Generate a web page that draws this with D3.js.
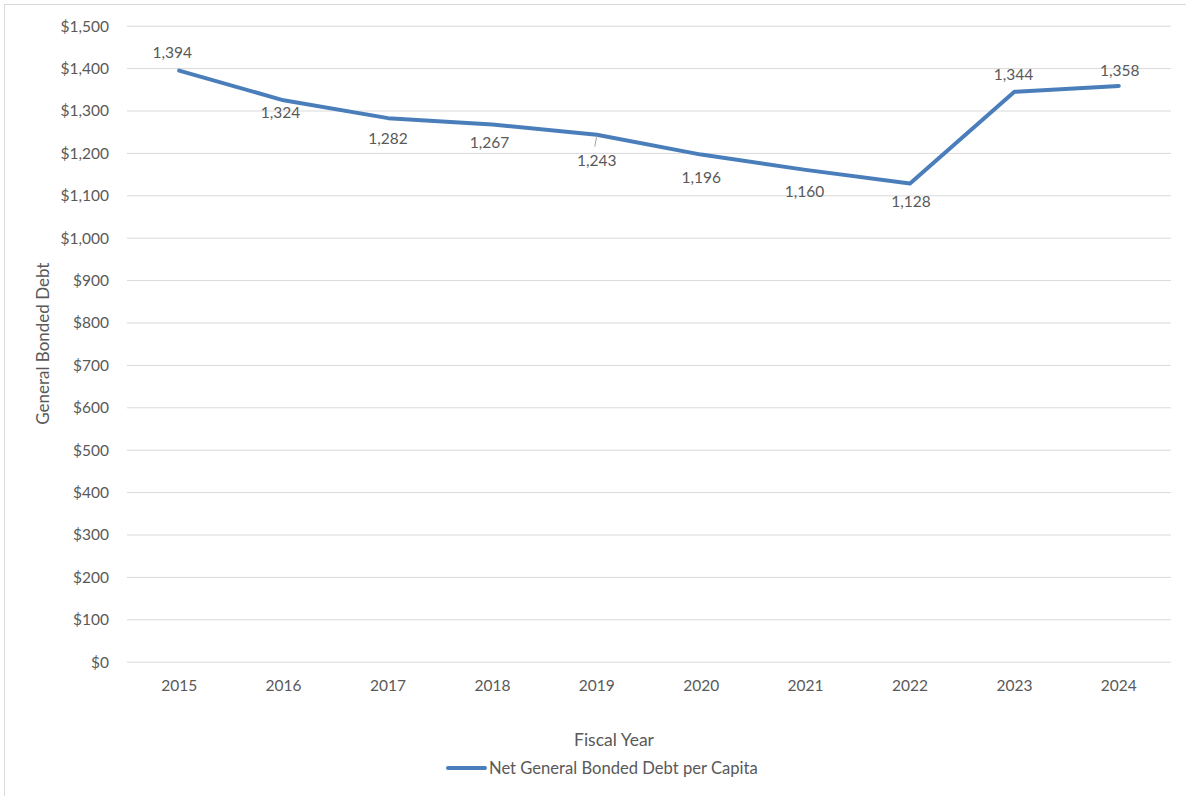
<!DOCTYPE html>
<html><head><meta charset="utf-8">
<script src="https://cdn.jsdelivr.net/npm/d3@7"></script>
<style>
html,body{margin:0;padding:0;background:#fff;}
svg{display:block;}
text{font-family:Lato,"Open Sans",sans-serif;fill:#595959;}
</style></head>
<body>
<svg id="c" width="1186" height="796"></svg>
<script>
const years = ["2015","2016","2017","2018","2019","2020","2021","2022","2023","2024"];
const debtPerCapita = [1394,1324,1282,1267,1243,1196,1160,1128,1344,1358];
const yTicks = [0,100,200,300,400,500,600,700,800,900,1000,1100,1200,1300,1400,1500];
const seriesName = "Net General Bonded Debt per Capita";
const xTitle = "Fiscal Year";
const yTitle = "General Bonded Debt";

const svg = d3.select("#c");
const L = 127, R = 1171, T = 25.7, B = 661.7;
const FS = 15.5;

svg.append("rect").attr("x",4.5).attr("y",4.5).attr("width",1190).attr("height",800)
  .attr("fill","none").attr("stroke","#d9d9d9").attr("stroke-width",1);

const x = d3.scaleBand().domain(years).range([L,R]);
const y = d3.scaleLinear().domain([0,1500]).range([B,T]);

// gridlines
const grid = svg.append("g").attr("transform",`translate(${L},0)`)
  .call(d3.axisLeft(y).tickValues(yTicks).tickSize(-(R-L)).tickFormat(""));
grid.select(".domain").remove();
grid.selectAll("line").attr("stroke","#d9d9d9").attr("stroke-width",1);

// y labels
const yAx = svg.append("g").attr("transform",`translate(${L-18},0)`)
  .call(d3.axisLeft(y).tickValues(yTicks).tickSize(0).tickPadding(0)
    .tickFormat(d=>"$"+d3.format(",")(d)));
yAx.select(".domain").remove();
yAx.selectAll("text").attr("font-size",FS).attr("fill","#595959")
  .style("font-family","Lato, 'Open Sans', sans-serif").attr("dy","0.35em");

// x labels
const xAx = svg.append("g").attr("transform",`translate(0,${B})`)
  .call(d3.axisBottom(x).tickSize(0).tickPadding(18));
xAx.select(".domain").remove();
xAx.selectAll("text").attr("font-size",FS).attr("fill","#595959")
  .style("font-family","Lato, 'Open Sans', sans-serif");

// line
const cx = d => x(d) + x.bandwidth()/2;
const line = d3.line().x((d,i)=>cx(years[i])).y(d=>y(d));
svg.append("path").datum(debtPerCapita).attr("d",line)
  .attr("fill","none").attr("stroke","#4a7ebb").attr("stroke-width",4)
  .attr("stroke-linejoin","round").attr("stroke-linecap","round");

// leader line for 2019
svg.append("line")
  .attr("x1",cx("2019")).attr("y1",y(debtPerCapita[4])+1)
  .attr("x2",cx("2019")-2).attr("y2",y(debtPerCapita[4])+12)
  .attr("stroke","#a6a6a6").attr("stroke-width",1);

// data labels
const lblOff = [[-7,-18],[-3,12],[0,20],[-3,18],[0,26],[0,23],[-1,22],[1,18],[-1,-17],[1,-15]];
svg.append("g").selectAll("text").data(debtPerCapita).join("text")
  .attr("x",(d,i)=>cx(years[i]) + lblOff[i][0])
  .attr("y",(d,i)=>y(d) + lblOff[i][1])
  .attr("dy","0.35em")
  .attr("text-anchor","middle").attr("font-size",FS)
  .text(d=>d3.format(",")(d));

// axis titles
svg.append("text").attr("x",614).attr("y",740).attr("dy","0.35em")
  .attr("text-anchor","middle").attr("font-size",17.5).text(xTitle);
svg.append("text").attr("transform",`translate(43,${(T+B)/2}) rotate(-90)`)
  .attr("dy","0.35em").attr("text-anchor","middle").attr("font-size",17).text(yTitle);

// legend
svg.append("line").attr("x1",448).attr("x2",485).attr("y1",768).attr("y2",768)
  .attr("stroke","#4a7ebb").attr("stroke-width",4).attr("stroke-linecap","round");
svg.append("text").attr("x",489).attr("y",768).attr("dy","0.35em")
  .attr("font-size",16.6).text(seriesName);
</script>
</body></html>
